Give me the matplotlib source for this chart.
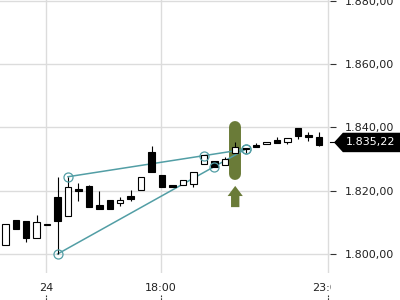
import matplotlib
matplotlib.use("Agg")
import matplotlib.pyplot as plt
from matplotlib.patches import Polygon, FancyArrow
from matplotlib.transforms import Bbox, blended_transform_factory
import numpy as np

# ---- data ----
opens  = [1802.8, 1810.7, 1810.4, 1805.0, 1809.1, 1817.9, 1812.1, 1820.4, 1821.5, 1815.5,
          1817.1, 1816.0, 1818.2, 1820.1, 1832.3, 1825.0, 1821.8, 1821.8, 1822.1, 1828.4,
          1829.4, 1828.1, 1831.9, 1833.0, 1834.3, 1834.6, 1836.0, 1835.3, 1839.7, 1837.4,
          1836.8]
highs  = [1809.5, 1810.7, 1810.4, 1812.3, 1809.1, 1824.2, 1824.4, 1822.5, 1821.7, 1820.0,
          1817.1, 1817.9, 1820.2, 1824.2, 1834.1, 1825.0, 1821.8, 1823.4, 1826.0, 1831.3,
          1829.4, 1830.7, 1835.5, 1833.2, 1835.0, 1835.5, 1837.0, 1836.7, 1839.7, 1838.4,
          1838.6]
lows   = [1802.8, 1807.8, 1803.9, 1805.0, 1809.1, 1800.0, 1812.1, 1816.8, 1814.8, 1814.3,
          1814.3, 1815.0, 1816.7, 1820.1, 1825.8, 1821.1, 1821.1, 1821.8, 1821.3, 1828.4,
          1827.4, 1828.1, 1831.9, 1831.8, 1833.8, 1834.6, 1835.1, 1834.7, 1836.3, 1835.7,
          1834.0]
closes = [1809.5, 1807.8, 1805.0, 1810.0, 1809.1, 1810.5, 1821.1, 1820.0, 1814.8, 1814.3,
          1814.3, 1817.1, 1817.4, 1824.2, 1825.8, 1821.1, 1821.1, 1823.4, 1826.0, 1831.3,
          1827.4, 1830.0, 1833.9, 1833.2, 1833.8, 1835.5, 1835.1, 1836.7, 1837.4, 1837.1,
          1834.4]
last_price = 1835.22

# trend lines (candle index, price)
upper_x = [6, 19, 23]
upper_y = [1824.4, 1831.05, 1833.1]
lower_x = [5, 20, 23]
lower_y = [1800.0, 1827.6, 1833.1]

# marked candle (green pill + arrow)
mark_idx = 22
pill_top, pill_bottom = 1840.1, 1825.3
arrow_base, arrow_tip = 1814.8, 1821.5

tick_pos = [3.9, 14.9, 30.88]
tick_labels = ["24", "18:00", "23:00"]
y_ticks = [1800, 1820, 1840, 1860, 1880]

TEAL = "#529ea5"
GREEN = "#6a7b38"
GRID = "#dcdcdc"


def de_fmt(v):
    s = f"{v:,.2f}"
    return s.replace(",", "X").replace(".", ",").replace("X", ".")


fig = plt.figure(figsize=(4, 3), dpi=100)
ax = fig.add_axes([0, 0.09, 0.825, 0.91])

x = np.arange(len(opens))
o = np.array(opens)
c = np.array(closes)

# gridlines
for t in tick_pos:
    ax.axvline(t, color=GRID, lw=1.0, zorder=0)
for yv in y_ticks:
    ax.axhline(yv, color=GRID, lw=1.0, zorder=0)

# green pill + arrow
ax.plot([mark_idx, mark_idx], [pill_top, pill_bottom], color=GREEN, lw=8.6,
        solid_capstyle="round", zorder=1)
ax.add_patch(FancyArrow(mark_idx, arrow_base, 0, arrow_tip - arrow_base,
                        width=0.8, head_width=1.45, head_length=3.2,
                        length_includes_head=True, color=GREEN, lw=0, zorder=1))

# trend lines
for lx, ly in [(upper_x, upper_y), (lower_x, lower_y)]:
    ax.plot(lx, ly, color=TEAL, lw=1.1, zorder=2)

# candles
up = c >= o
ax.vlines(x, lows, highs, color="black", lw=0.8, zorder=3)
body_h = np.maximum(np.abs(c - o), 0.35)
body_b = np.minimum(o, c)
ax.bar(x[up], body_h[up], bottom=body_b[up], width=0.62, color="white",
       edgecolor="black", lw=0.8, zorder=4)
ax.bar(x[~up], body_h[~up], bottom=body_b[~up], width=0.62, color="black",
       edgecolor="black", lw=0.8, zorder=4)

# circles on trend line points
ax.plot(upper_x + lower_x, upper_y + lower_y, "o", ms=6.5, mfc="none",
        mec=TEAL, mew=0.9, zorder=5)

ax.set_xlim(-0.507, 31.07)
ax.set_ylim(1794.0, 1880.2)

for s in ax.spines.values():
    s.set_visible(False)

# right price axis
ax.yaxis.tick_right()
ax.set_yticks(y_ticks)
ax.set_yticklabels([de_fmt(v) for v in y_ticks])
ax.tick_params(axis="y", length=4.5, width=0.8, color="#333333", pad=6,
               labelsize=8, labelcolor="#222222")

# time axis
ax.set_xticks(tick_pos)
ax.set_xticklabels(tick_labels)
ax.tick_params(axis="x", length=0, pad=7, labelsize=8, labelcolor="#222222")
clip = Bbox([[0, 0], [331, 300]])
for lbl in ax.get_xticklabels():
    lbl.set_clip_box(clip)
    lbl.set_clip_on(True)
trans_x = blended_transform_factory(ax.transData, ax.transAxes)
for t in tick_pos:
    ax.plot([t, t], [-0.082, -0.1], color="#333333", lw=0.8, ls=(0, (1.5, 1)),
            transform=trans_x, clip_on=False)

# last price label
trans_p = blended_transform_factory(ax.transAxes, ax.transData)
h = 2.85
ax.plot([1.0, 1.022], [last_price, last_price], color="black", lw=0.8,
        transform=trans_p, clip_on=False)
ax.add_patch(Polygon([[1.015, last_price], [1.04, last_price + h],
                      [1.22, last_price + h], [1.22, last_price - h],
                      [1.04, last_price - h]], closed=True, color="black",
                     transform=trans_p, clip_on=False))
ax.text(1.048, last_price, de_fmt(last_price), color="white", fontsize=8,
        va="center", ha="left", transform=trans_p)

fig.savefig("out.png", dpi=100)
